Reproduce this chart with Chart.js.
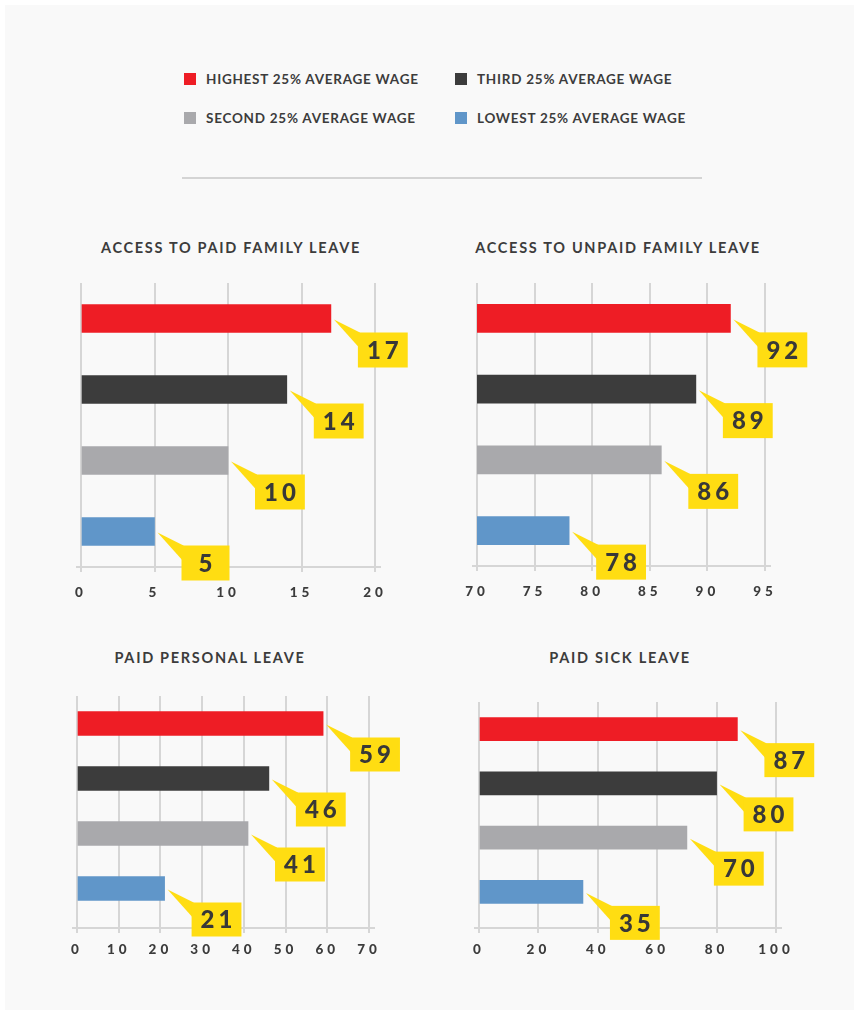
<!DOCTYPE html>
<html>
<head>
<meta charset="utf-8">
<title>Leave access by wage group</title>
<script src="https://cdn.jsdelivr.net/npm/chart.js@4.4.1/dist/chart.umd.min.js"></script>
<style>
  body { margin: 0; background: #fff; font-family: Lato, "Open Sans", sans-serif; }
  #page { position: absolute; left: 5px; top: 5px; width: 849px; height: 1005px; background: #f9f9f9; }
  .legend-item { position: absolute; font-weight: 700; font-size: 13.5px; line-height: 14px; letter-spacing: 0.75px; color: #3c3c3c; white-space: nowrap; }
  .legend-item i { position: absolute; left: -22px; top: 1px; width: 12px; height: 12px; }
  .rule { position: absolute; left: 182px; top: 177px; width: 520px; height: 2px; background: #d4d4d4; }
  .title { position: absolute; font-weight: 700; font-size: 14.5px; line-height: 16px; letter-spacing: 1.7px; color: #3c3c3c; white-space: nowrap; transform: translateX(-50%); }
  canvas { position: absolute; }
</style>
</head>
<body>
<div id="page"></div>
<div class="rule"></div>
<div id="legend"></div>
<div id="charts"></div>
<script>
// wage groups, top to bottom
const categories = ['HIGHEST 25% AVERAGE WAGE', 'THIRD 25% AVERAGE WAGE', 'SECOND 25% AVERAGE WAGE', 'LOWEST 25% AVERAGE WAGE'];
const barColors = ['#ee1d25', '#3c3c3c', '#a9a9ac', '#6096c9'];

// percent of workers with access
const paidFamilyValues = [17, 14, 10, 5];
const unpaidFamilyValues = [92, 89, 86, 78];
const personalValues = [59, 46, 41, 21];
const sickValues = [87, 80, 70, 35];

const paidFamilyTicks = [0, 5, 10, 15, 20];
const unpaidFamilyTicks = [70, 75, 80, 85, 90, 95];
const personalTicks = [0, 10, 20, 30, 40, 50, 60, 70];
const sickTicks = [0, 20, 40, 60, 80, 100];

const GRID = '#d6d6d6';
const TEXT = '#3c3c3c';

// legend: two columns, two rows (highest / third, second / lowest)
const legendPos = [
  { left: 206, top: 72 }, { left: 477, top: 72 },
  { left: 206, top: 111 }, { left: 477, top: 111 }
];
const legendEl = document.getElementById('legend');
categories.forEach((name, i) => {
  const d = document.createElement('div');
  d.className = 'legend-item';
  d.style.left = legendPos[i].left + 'px';
  d.style.top = legendPos[i].top + 'px';
  d.innerHTML = '<i style="background:' + barColors[i] + '"></i>' + name;
  legendEl.appendChild(d);
});

const panels = [
  { title: 'ACCESS TO PAID FAMILY LEAVE', values: paidFamilyValues, ticks: paidFamilyTicks,
    titleX: 231, titleY: 240, area: { left: 81, right: 375, top: 283, bottom: 567 },
    gap: 0, bar: 28, box: 35, labelPad: 13 },
  { title: 'ACCESS TO UNPAID FAMILY LEAVE', values: unpaidFamilyValues, ticks: unpaidFamilyTicks,
    titleX: 618, titleY: 240, area: { left: 477, right: 765, top: 283, bottom: 566 },
    gap: 0, bar: 28, box: 35, labelPad: 13 },
  { title: 'PAID PERSONAL LEAVE', values: personalValues, ticks: personalTicks,
    titleX: 210, titleY: 650, area: { left: 77, right: 369, top: 696, bottom: 916 },
    gap: 12, bar: 24, box: 34, labelPad: 9 },
  { title: 'PAID SICK LEAVE', values: sickValues, ticks: sickTicks,
    titleX: 620, titleY: 650, area: { left: 479, right: 776, top: 702, bottom: 919 },
    gap: 9, bar: 23, box: 34, labelPad: 9 }
];

// yellow value tags with a wedge pointing back at the bar end
const calloutPlugin = {
  id: 'callouts',
  afterDatasetsDraw(chart, args, opts) {
    const ctx = chart.ctx;
    const meta = chart.getDatasetMeta(0);
    const data = chart.data.datasets[0].data;
    ctx.save();
    ctx.font = '900 24px Lato';
    ctx.letterSpacing = '4px';
    meta.data.forEach((bar, i) => {
      const text = String(data[i]);
      const tw = ctx.measureText(text).width;
      const w = Math.max(48, tw + 14);
      const h = opts.height;
      const bx = bar.x + 27;
      const by = bar.y + 14;
      ctx.fillStyle = '#ffdd12';
      ctx.beginPath();
      ctx.moveTo(bar.x + 3, bar.y + 1);
      ctx.lineTo(bx + 2, by);
      ctx.lineTo(bx + 2, by + 16);
      ctx.closePath();
      ctx.fill();
      ctx.fillRect(bx, by, w, h);
      ctx.fillStyle = '#383838';
      ctx.textAlign = 'center';
      ctx.textBaseline = 'middle';
      ctx.fillText(text, bx + w / 2 + 2, by + h / 2 + 1);
    });
    ctx.restore();
  }
};

// bottom axis line, a little wider than the plot; drawn under the bars and tags
const axisLinePlugin = {
  id: 'axisLine',
  beforeDraw(chart) {
    chart.ctx.letterSpacing = '4px';
  },
  beforeDatasetsDraw(chart, args, opts) {
    const { ctx, chartArea } = chart;
    const y = chartArea.bottom + opts.gap;
    ctx.save();
    ctx.strokeStyle = GRID;
    ctx.lineWidth = 2;
    ctx.beginPath();
    ctx.moveTo(chartArea.left - 5, y);
    ctx.lineTo(chartArea.right + 6, y);
    ctx.stroke();
    ctx.restore();
  }
};

const chartsEl = document.getElementById('charts');
const AXIS_H = 40;
const PAD = { left: 45, right: 80, top: 30, bottom: 20 };

panels.forEach(p => {
  const t = document.createElement('div');
  t.className = 'title';
  t.style.left = p.titleX + 'px';
  t.style.top = p.titleY + 'px';
  t.textContent = p.title;
  chartsEl.appendChild(t);

  const a = p.area;
  const canvas = document.createElement('canvas');
  canvas.width = a.right - a.left + PAD.left + PAD.right;
  canvas.height = a.bottom - a.top + PAD.top + PAD.bottom + AXIS_H;
  canvas.style.left = (a.left - PAD.left) + 'px';
  canvas.style.top = (a.top - PAD.top) + 'px';
  chartsEl.appendChild(canvas);

  new Chart(canvas, {
    type: 'bar',
    data: {
      labels: categories,
      datasets: [{
        data: p.values,
        backgroundColor: barColors,
        barThickness: p.bar,
        borderWidth: 0
      }]
    },
    options: {
      indexAxis: 'y',
      responsive: false,
      animation: false,
      events: [],
      layout: { padding: PAD },
      scales: {
        x: {
          min: p.ticks[0],
          max: p.ticks[p.ticks.length - 1],
          afterBuildTicks(scale) { scale.ticks = p.ticks.map(v => ({ value: v })); },
          afterFit(scale) { scale.height = AXIS_H; scale.paddingLeft = 0; scale.paddingRight = 0; },
          border: { display: false },
          grid: { color: GRID, lineWidth: 2, tickLength: p.gap + 5, tickColor: GRID },
          ticks: { color: TEXT, padding: p.labelPad, font: { family: 'Lato', weight: '900', size: 13.5 } }
        },
        y: { display: false }
      },
      plugins: {
        legend: { display: false },
        tooltip: { enabled: false },
        callouts: { height: p.box },
        axisLine: { gap: p.gap }
      }
    },
    plugins: [calloutPlugin, axisLinePlugin]
  });
});
</script>
</body>
</html>
